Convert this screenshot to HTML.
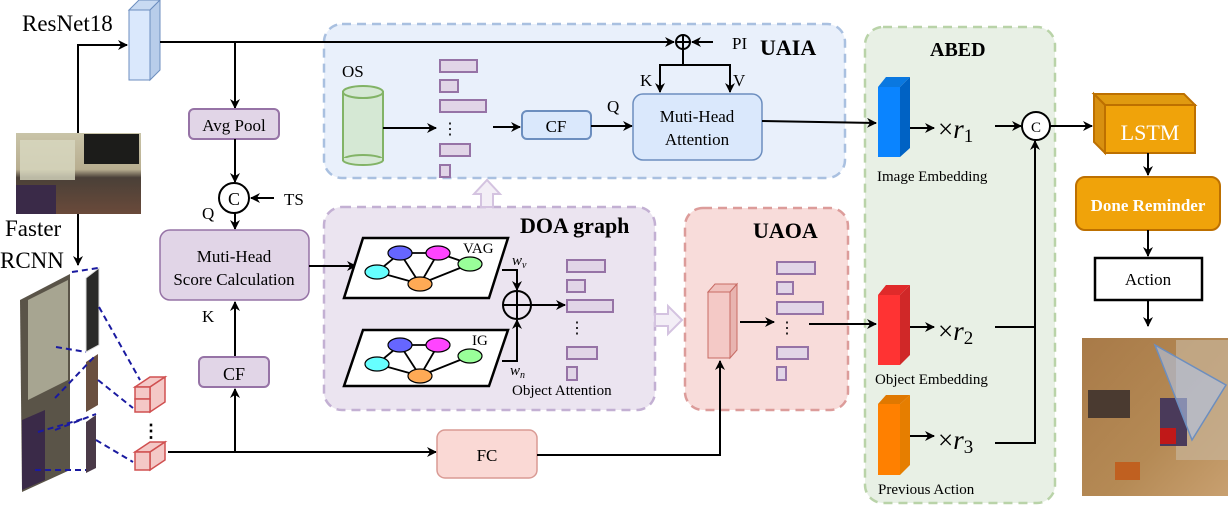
<!DOCTYPE html>
<html><head><meta charset="utf-8"><style>
html,body{margin:0;padding:0;background:#fff;}
svg{display:block;font-family:"Liberation Serif",serif;}
</style></head><body>
<svg width="1230" height="510" viewBox="0 0 1230 510" xmlns="http://www.w3.org/2000/svg">
<defs>
<marker id="a" markerWidth="10" markerHeight="10" refX="9" refY="5" orient="auto" markerUnits="userSpaceOnUse">
<path d="M0,0 L10,5 L0,10 L3,5 z" fill="#000"/></marker>
<linearGradient id="room" x1="0" y1="0" x2="0" y2="1">
<stop offset="0" stop-color="#c9c4a8"/><stop offset="0.45" stop-color="#b8ae90"/><stop offset="0.55" stop-color="#4a4038"/><stop offset="1" stop-color="#6a4a3a"/></linearGradient>
<linearGradient id="floor" x1="0" y1="0" x2="1" y2="1">
<stop offset="0" stop-color="#a87a48"/><stop offset="0.6" stop-color="#b58a55"/><stop offset="1" stop-color="#c8a070"/></linearGradient>
</defs>

<rect x="324" y="24" width="521" height="154" rx="18" fill="#e9f0fb" stroke="#a9c0e0" stroke-width="2.5" stroke-dasharray="9,6"/>
<rect x="324" y="207" width="331" height="203" rx="18" fill="#ebe4f0" stroke="#c3b0d3" stroke-width="2.5" stroke-dasharray="9,6"/>
<rect x="685" y="208" width="163" height="202" rx="18" fill="#f8dcda" stroke="#dc9c9a" stroke-width="2.5" stroke-dasharray="9,6"/>
<rect x="865" y="27" width="190" height="476" rx="18" fill="#e8f0e5" stroke="#b9d3a8" stroke-width="2.5" stroke-dasharray="9,6"/>

<text x="760" y="55" font-size="22" font-weight="bold">UAIA</text>
<text x="520" y="233" font-size="22" font-weight="bold">DOA graph</text>
<text x="753" y="238" font-size="22" font-weight="bold">UAOA</text>
<text x="930" y="56" font-size="20" font-weight="bold">ABED</text>

<text x="22" y="31" font-size="23">ResNet18</text>
<polygon points="129,10 139,0 160,0 150,10" fill="#c8daf2" stroke="#6c8ebf"/>
<polygon points="150,10 160,0 160,70 150,80" fill="#b8cdea" stroke="#6c8ebf"/>
<rect x="129" y="10" width="21" height="70" fill="#dae8fc" stroke="#6c8ebf"/>
<rect x="16" y="133" width="125" height="81" fill="url(#room)"/>
<rect x="84" y="134" width="55" height="30" fill="#1c1c1a"/>
<rect x="20" y="140" width="55" height="40" fill="#d8d8c0" opacity="0.8"/>
<rect x="16" y="185" width="40" height="29" fill="#3a2a48"/>
<polyline points="78,133 78,45 127,45" fill="none" stroke="#000" stroke-width="2" marker-end="url(#a)"/>
<line x1="78" y1="214" x2="78" y2="265" stroke="#000" stroke-width="2" marker-end="url(#a)"/>
<text x="5" y="236" font-size="23">Faster</text>
<text x="0" y="268" font-size="23">RCNN</text>
<polygon points="20,300 70,274 70,470 22,492" fill="#5a5448"/>
<polygon points="28,300 68,280 68,380 28,400" fill="#c8c8b0" opacity="0.7"/>
<polygon points="22,420 45,410 45,480 22,490" fill="#3a2a48"/>
<polygon points="86,278 99,268 99,345 86,352" fill="#2a2a28" stroke="#ddd"/>
<polygon points="86,362 98,354 98,405 86,412" fill="#6a5040"/>
<polygon points="86,422 96,415 96,468 86,473" fill="#4a3a48"/>
<g stroke="#1a1aa0" stroke-width="2" stroke-dasharray="6,4" fill="none">
<line x1="72" y1="272" x2="98" y2="268"/><line x1="56" y1="347" x2="86" y2="352"/>
<line x1="99" y1="307" x2="140" y2="380"/><line x1="98" y1="380" x2="133" y2="408"/>
<line x1="55" y1="398" x2="95" y2="356"/><line x1="55" y1="430" x2="96" y2="414"/>
<line x1="96" y1="440" x2="133" y2="462"/><line x1="35" y1="470" x2="86" y2="470"/>
<line x1="38" y1="432" x2="86" y2="418"/>
</g>
<g fill="#f4c8c6" stroke="#d05050" stroke-width="1.5">
<polygon points="135,387 150,377 165,377 150,387"/><polygon points="150,387 165,377 165,402 150,412"/>
<rect x="135" y="387" width="15" height="12"/><rect x="135" y="399" width="15" height="13"/>
<polygon points="135,452 150,442 165,442 150,452"/><polygon points="150,452 165,442 165,460 150,470"/>
<rect x="135" y="452" width="15" height="18"/>
</g>
<text x="142" y="437" font-size="18" font-weight="bold">⋮</text>

<line x1="160" y1="42" x2="674" y2="42" stroke="#000" stroke-width="2" marker-end="url(#a)"/>
<line x1="235" y1="42" x2="235" y2="108" stroke="#000" stroke-width="2" marker-end="url(#a)"/>
<rect x="189" y="109" width="90" height="30" rx="5" fill="#e1d5e7" stroke="#9673a6" stroke-width="2"/>
<text x="234" y="131" font-size="17" text-anchor="middle">Avg Pool</text>
<line x1="235" y1="139" x2="235" y2="182" stroke="#000" stroke-width="2" marker-end="url(#a)"/>
<circle cx="234" cy="198" r="15" fill="#fff" stroke="#000" stroke-width="2"/>
<text x="234" y="205" font-size="18" text-anchor="middle">C</text>
<line x1="274" y1="198" x2="251" y2="198" stroke="#000" stroke-width="2" marker-end="url(#a)"/>
<text x="284" y="205" font-size="17">TS</text>
<text x="202" y="219" font-size="17">Q</text>
<line x1="235" y1="213" x2="235" y2="229" stroke="#000" stroke-width="2" marker-end="url(#a)"/>
<rect x="160" y="230" width="149" height="70" rx="10" fill="#e1d5e7" stroke="#9673a6" stroke-width="1.5"/>
<text x="234" y="262" font-size="17" text-anchor="middle">Muti-Head</text>
<text x="234" y="285" font-size="17" text-anchor="middle">Score Calculation</text>
<text x="202" y="322" font-size="17">K</text>
<line x1="235" y1="357" x2="235" y2="302" stroke="#000" stroke-width="2" marker-end="url(#a)"/>
<rect x="199" y="357" width="70" height="30" rx="5" fill="#e1d5e7" stroke="#9673a6" stroke-width="2"/>
<text x="234" y="380" font-size="18" text-anchor="middle">CF</text>
<line x1="168" y1="452" x2="436" y2="452" stroke="#000" stroke-width="2" marker-end="url(#a)"/>
<line x1="235" y1="452" x2="235" y2="389" stroke="#000" stroke-width="2" marker-end="url(#a)"/>
<rect x="437" y="430" width="100" height="48" rx="8" fill="#fad9d5" stroke="#d99a94" stroke-width="1.5"/>
<text x="487" y="461" font-size="17" text-anchor="middle">FC</text>
<polyline points="537,455 720,455 720,361" fill="none" stroke="#000" stroke-width="2" marker-end="url(#a)"/>
<line x1="309" y1="266" x2="356" y2="266" stroke="#000" stroke-width="2" marker-end="url(#a)"/>

<text x="342" y="77" font-size="17">OS</text>
<rect x="343" y="92" width="40" height="68" fill="#d5e8d4" stroke="#82b366" stroke-width="2"/>
<ellipse cx="363" cy="160" rx="20" ry="5" fill="#d5e8d4" stroke="#82b366" stroke-width="2"/>
<rect x="344" y="158" width="38" height="2" fill="#d5e8d4"/>
<ellipse cx="363" cy="92" rx="20" ry="6" fill="#d5e8d4" stroke="#82b366" stroke-width="2"/>
<line x1="383" y1="128" x2="436" y2="128" stroke="#000" stroke-width="2" marker-end="url(#a)"/>
<g fill="#e1d5e7" stroke="#9673a6" stroke-width="2">
<rect x="440" y="60" width="37" height="12"/><rect x="440" y="80" width="18" height="12"/>
<rect x="440" y="100" width="46" height="12"/><rect x="440" y="144" width="30" height="12"/>
<rect x="440" y="165" width="10" height="12"/></g>
<text x="442" y="134" font-size="16">⋮</text>
<line x1="493" y1="127" x2="520" y2="127" stroke="#000" stroke-width="2" marker-end="url(#a)"/>
<rect x="522" y="111" width="69" height="28" rx="5" fill="#dae8fc" stroke="#6c8ebf" stroke-width="2"/>
<text x="556" y="132" font-size="17" text-anchor="middle">CF</text>
<line x1="591" y1="126" x2="632" y2="126" stroke="#000" stroke-width="2" marker-end="url(#a)"/>
<text x="607" y="112" font-size="17">Q</text>
<rect x="633" y="94" width="129" height="66" rx="10" fill="#dae8fc" stroke="#6c8ebf" stroke-width="1.5"/>
<text x="697" y="122" font-size="17" text-anchor="middle">Muti-Head</text>
<text x="697" y="145" font-size="17" text-anchor="middle">Attention</text>
<circle cx="683" cy="42" r="7" fill="none" stroke="#000" stroke-width="2"/>
<line x1="676" y1="42" x2="690" y2="42" stroke="#000" stroke-width="2"/><line x1="683" y1="35" x2="683" y2="49" stroke="#000" stroke-width="2"/>
<line x1="713" y1="42" x2="692" y2="42" stroke="#000" stroke-width="2" marker-end="url(#a)"/>
<text x="732" y="49" font-size="17">PI</text>
<polyline points="683,49 683,65 660,65 660,92" fill="none" stroke="#000" stroke-width="2" marker-end="url(#a)"/>
<polyline points="683,65 730,65 730,92" fill="none" stroke="#000" stroke-width="2" marker-end="url(#a)"/>
<text x="640" y="86" font-size="17">K</text>
<text x="733" y="86" font-size="17">V</text>
<line x1="762" y1="121" x2="876" y2="123" stroke="#000" stroke-width="2" marker-end="url(#a)"/>

<polygon points="481,207 481,194 474,194 487,180 500,194 493,194 493,207" fill="#f3eef6" stroke="#d4c3e0" stroke-width="2"/>
<polygon points="655,314 668,314 668,306 682,320 668,334 668,326 655,326" fill="#f3eef6" stroke="#d4c3e0" stroke-width="2"/>

<g stroke="#000" stroke-width="2.5" fill="#fff">
<polygon points="344,298 363,238 508,238 489,298"/>
<polygon points="344,386 363,330 508,330 489,386"/></g>
<g stroke="#000" stroke-width="1.8">
<line x1="400" y1="253" x2="377" y2="272"/><line x1="400" y1="253" x2="438" y2="253"/><line x1="400" y1="253" x2="420" y2="284"/>
<line x1="377" y1="272" x2="420" y2="284"/><line x1="438" y1="253" x2="420" y2="284"/><line x1="420" y1="284" x2="470" y2="264"/>
<line x1="438" y1="253" x2="470" y2="264"/>
<line x1="400" y1="345" x2="377" y2="364"/><line x1="400" y1="345" x2="438" y2="345"/><line x1="400" y1="345" x2="420" y2="376"/>
<line x1="377" y1="364" x2="420" y2="376"/><line x1="438" y1="345" x2="420" y2="376"/><line x1="420" y1="376" x2="470" y2="356"/>
</g>
<g stroke="#000" stroke-width="1.2">
<ellipse cx="400" cy="253" rx="12" ry="7" fill="#6666ff"/><ellipse cx="438" cy="253" rx="12" ry="7" fill="#ff44ff"/>
<ellipse cx="470" cy="264" rx="12" ry="7" fill="#99ff99"/><ellipse cx="377" cy="272" rx="12" ry="7" fill="#66ffff"/>
<ellipse cx="420" cy="284" rx="12" ry="7" fill="#ffaa55"/>
<ellipse cx="400" cy="345" rx="12" ry="7" fill="#6666ff"/><ellipse cx="438" cy="345" rx="12" ry="7" fill="#ff44ff"/>
<ellipse cx="470" cy="356" rx="12" ry="7" fill="#99ff99"/><ellipse cx="377" cy="364" rx="12" ry="7" fill="#66ffff"/>
<ellipse cx="420" cy="376" rx="12" ry="7" fill="#ffaa55"/></g>
<text x="463" y="253" font-size="15">VAG</text>
<text x="472" y="345" font-size="15">IG</text>
<polyline points="502,270 517,270 517,290" fill="none" stroke="#000" stroke-width="2" marker-end="url(#a)"/>
<polyline points="502,361 517,361 517,320" fill="none" stroke="#000" stroke-width="2" marker-end="url(#a)"/>
<circle cx="517" cy="305" r="14" fill="none" stroke="#000" stroke-width="2"/>
<line x1="503" y1="305" x2="531" y2="305" stroke="#000" stroke-width="2"/><line x1="517" y1="291" x2="517" y2="319" stroke="#000" stroke-width="2"/>
<text x="512" y="265" font-size="15" font-style="italic">w<tspan font-size="10" dy="3">v</tspan></text>
<text x="510" y="375" font-size="15" font-style="italic">w<tspan font-size="10" dy="3">n</tspan></text>
<line x1="531" y1="305" x2="565" y2="305" stroke="#000" stroke-width="2" marker-end="url(#a)"/>
<g fill="#e1d5e7" stroke="#9673a6" stroke-width="2">
<rect x="567" y="260" width="38" height="12"/><rect x="567" y="280" width="18" height="12"/>
<rect x="567" y="300" width="46" height="12"/><rect x="567" y="347" width="30" height="12"/>
<rect x="567" y="367" width="10" height="13"/></g>
<text x="569" y="333" font-size="16">⋮</text>
<text x="512" y="395" font-size="15">Object Attention</text>

<polygon points="708,292 715,284 737,284 730,292" fill="#f0c0bc" stroke="#c76b64"/>
<polygon points="730,292 737,284 737,350 730,358" fill="#e8b4b0" stroke="#c76b64"/>
<rect x="708" y="292" width="22" height="66" fill="#f4c9c6" stroke="#c76b64"/>
<line x1="740" y1="322" x2="774" y2="322" stroke="#000" stroke-width="2" marker-end="url(#a)"/>
<g fill="#e1d5e7" stroke="#9673a6" stroke-width="2">
<rect x="777" y="262" width="38" height="12"/><rect x="777" y="282" width="16" height="12"/>
<rect x="777" y="302" width="46" height="12"/><rect x="777" y="347" width="31" height="12"/>
<rect x="777" y="367" width="9" height="13"/></g>
<text x="779" y="333" font-size="16">⋮</text>
<line x1="809" y1="324" x2="876" y2="324" stroke="#000" stroke-width="2" marker-end="url(#a)"/>

<polygon points="878,87 886,77 910,77 900,87" fill="#0a78e0"/>
<polygon points="900,87 910,77 910,148 900,157" fill="#0062c4"/>
<rect x="878" y="87" width="22" height="70" fill="#0a84ff"/>
<text x="877" y="181" font-size="15">Image Embedding</text>
<polygon points="878,295 886,285 910,285 900,295" fill="#e02a2a"/>
<polygon points="900,295 910,285 910,355 900,365" fill="#d02828"/>
<rect x="878" y="295" width="22" height="70" fill="#ff3333"/>
<text x="875" y="384" font-size="15">Object Embedding</text>
<polygon points="878,404 886,395 910,395 900,404" fill="#e07800"/>
<polygon points="900,404 910,395 910,465 900,475" fill="#e67e00"/>
<rect x="878" y="404" width="22" height="71" fill="#ff8000"/>
<text x="878" y="494" font-size="15">Previous Action</text>
<line x1="910" y1="128" x2="934" y2="128" stroke="#000" stroke-width="2" marker-end="url(#a)"/>
<line x1="910" y1="327" x2="934" y2="327" stroke="#000" stroke-width="2" marker-end="url(#a)"/>
<line x1="910" y1="436" x2="934" y2="436" stroke="#000" stroke-width="2" marker-end="url(#a)"/>
<text x="938" y="138" font-size="27">×<tspan font-style="italic">r</tspan><tspan font-size="19" dy="4">1</tspan></text>
<text x="938" y="340" font-size="27">×<tspan font-style="italic">r</tspan><tspan font-size="19" dy="4">2</tspan></text>
<text x="938" y="449" font-size="27">×<tspan font-style="italic">r</tspan><tspan font-size="19" dy="4">3</tspan></text>
<line x1="995" y1="126" x2="1021" y2="126" stroke="#000" stroke-width="2" marker-end="url(#a)"/>
<circle cx="1036" cy="126" r="14" fill="#fff" stroke="#000" stroke-width="2"/>
<text x="1036" y="132" font-size="15" text-anchor="middle">C</text>
<polyline points="995,327 1035,327" fill="none" stroke="#000" stroke-width="2"/>
<polyline points="995,443 1035,443 1035,141" fill="none" stroke="#000" stroke-width="2" marker-end="url(#a)"/>
<line x1="1050" y1="126" x2="1092" y2="126" stroke="#000" stroke-width="2" marker-end="url(#a)"/>

<polygon points="1094,94 1105,105 1195,105 1184,94" fill="#e09a10" stroke="#bd7000" stroke-width="2"/>
<polygon points="1094,94 1105,105 1105,153 1094,142" fill="#d89010" stroke="#bd7000" stroke-width="2"/>
<rect x="1105" y="105" width="90" height="48" fill="#f0a30a" stroke="#bd7000" stroke-width="2"/>
<text x="1150" y="140" font-size="22" fill="#fff" text-anchor="middle">LSTM</text>
<line x1="1148" y1="153" x2="1148" y2="175" stroke="#000" stroke-width="2" marker-end="url(#a)"/>
<rect x="1076" y="177" width="144" height="53" rx="9" fill="#f0a30a" stroke="#bd7000" stroke-width="2"/>
<text x="1148" y="211" font-size="17" font-weight="bold" fill="#fff" text-anchor="middle">Done Reminder</text>
<line x1="1148" y1="230" x2="1148" y2="256" stroke="#000" stroke-width="2" marker-end="url(#a)"/>
<rect x="1095" y="258" width="107" height="42" fill="#fff" stroke="#000" stroke-width="2.5"/>
<text x="1148" y="285" font-size="17" text-anchor="middle">Action</text>
<line x1="1148" y1="300" x2="1148" y2="326" stroke="#000" stroke-width="2" marker-end="url(#a)"/>
<rect x="1082" y="338" width="146" height="158" fill="url(#floor)"/>
<rect x="1088" y="390" width="42" height="28" fill="#4a3a30"/>
<polygon points="1176,340 1228,340 1228,460 1176,460" fill="#c8b498" opacity="0.7"/>
<rect x="1160" y="398" width="27" height="48" fill="#4a3a5a"/>
<rect x="1160" y="428" width="16" height="16" fill="#c01818"/>
<rect x="1115" y="462" width="25" height="18" fill="#c06020"/>
<polygon points="1155,345 1226,385 1192,440" fill="#b0c4e8" fill-opacity="0.6" stroke="#6c8ebf" stroke-width="1.5"/>
</svg>
</body></html>
